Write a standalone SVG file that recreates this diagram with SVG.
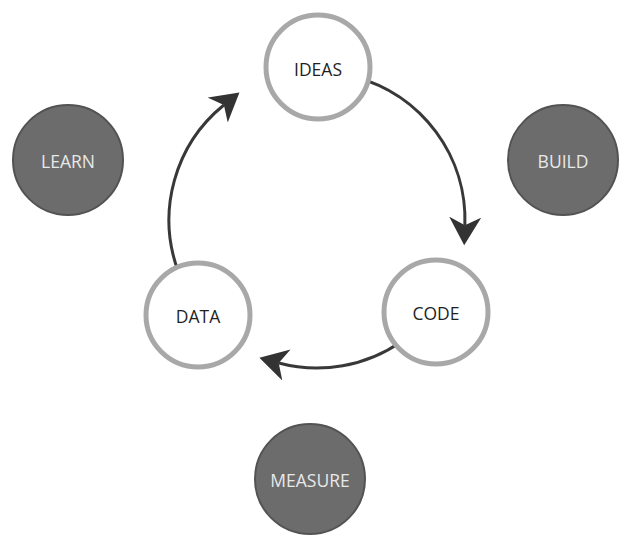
<svg xmlns="http://www.w3.org/2000/svg" width="636" height="544" viewBox="0 0 636 544">
<style>
.ring{fill:#fff;stroke:#a8a8a8;stroke-width:5}
.dark{fill:#6c6c6c;stroke:#535353;stroke-width:2}
.lbl{font-family:"Open Sans","Liberation Sans",sans-serif;font-size:17.5px;text-anchor:middle;dominant-baseline:central}
.lt{fill:#1f1f1f}
.ld{fill:#e8e8e8}
.conn{fill:none;stroke:#383838;stroke-width:3}
</style>
<defs>
<marker id="ah" markerUnits="userSpaceOnUse" markerWidth="30" markerHeight="34" refX="8" refY="16" orient="auto" viewBox="0 0 30 34">
<path d="M0,0 L28,16 L0,32 L8,16 Z" fill="#333"/>
</marker>
</defs>
<rect width="636" height="544" fill="#fff"/>
<g id="connectors">
<path class="conn" d="M355.3,77 A148,148 0 0 1 464.9,225.2" marker-end="url(#ah)"/>
<path class="conn" d="M401.9,341.2 A148,148 0 0 1 278.7,363" marker-end="url(#ah)"/>
<path class="conn" d="M177.9,270.6 A148,148 0 0 1 223.9,105" marker-end="url(#ah)"/>
</g>
<g id="ideas"><circle class="ring" cx="318" cy="67" r="52"/><text class="lbl lt" x="318" y="69">IDEAS</text></g>
<g id="code"><circle class="ring" cx="436" cy="312" r="52"/><text class="lbl lt" x="436" y="313">CODE</text></g>
<g id="data"><circle class="ring" cx="198" cy="315" r="52"/><text class="lbl lt" x="198" y="316">DATA</text></g>
<g id="learn"><circle class="dark" cx="68" cy="160" r="55"/><text class="lbl ld" x="68" y="161">LEARN</text></g>
<g id="build"><circle class="dark" cx="563" cy="160" r="55"/><text class="lbl ld" x="563" y="161">BUILD</text></g>
<g id="measure"><circle class="dark" cx="310" cy="479" r="55"/><text class="lbl ld" x="310" y="480">MEASURE</text></g>
</svg>
